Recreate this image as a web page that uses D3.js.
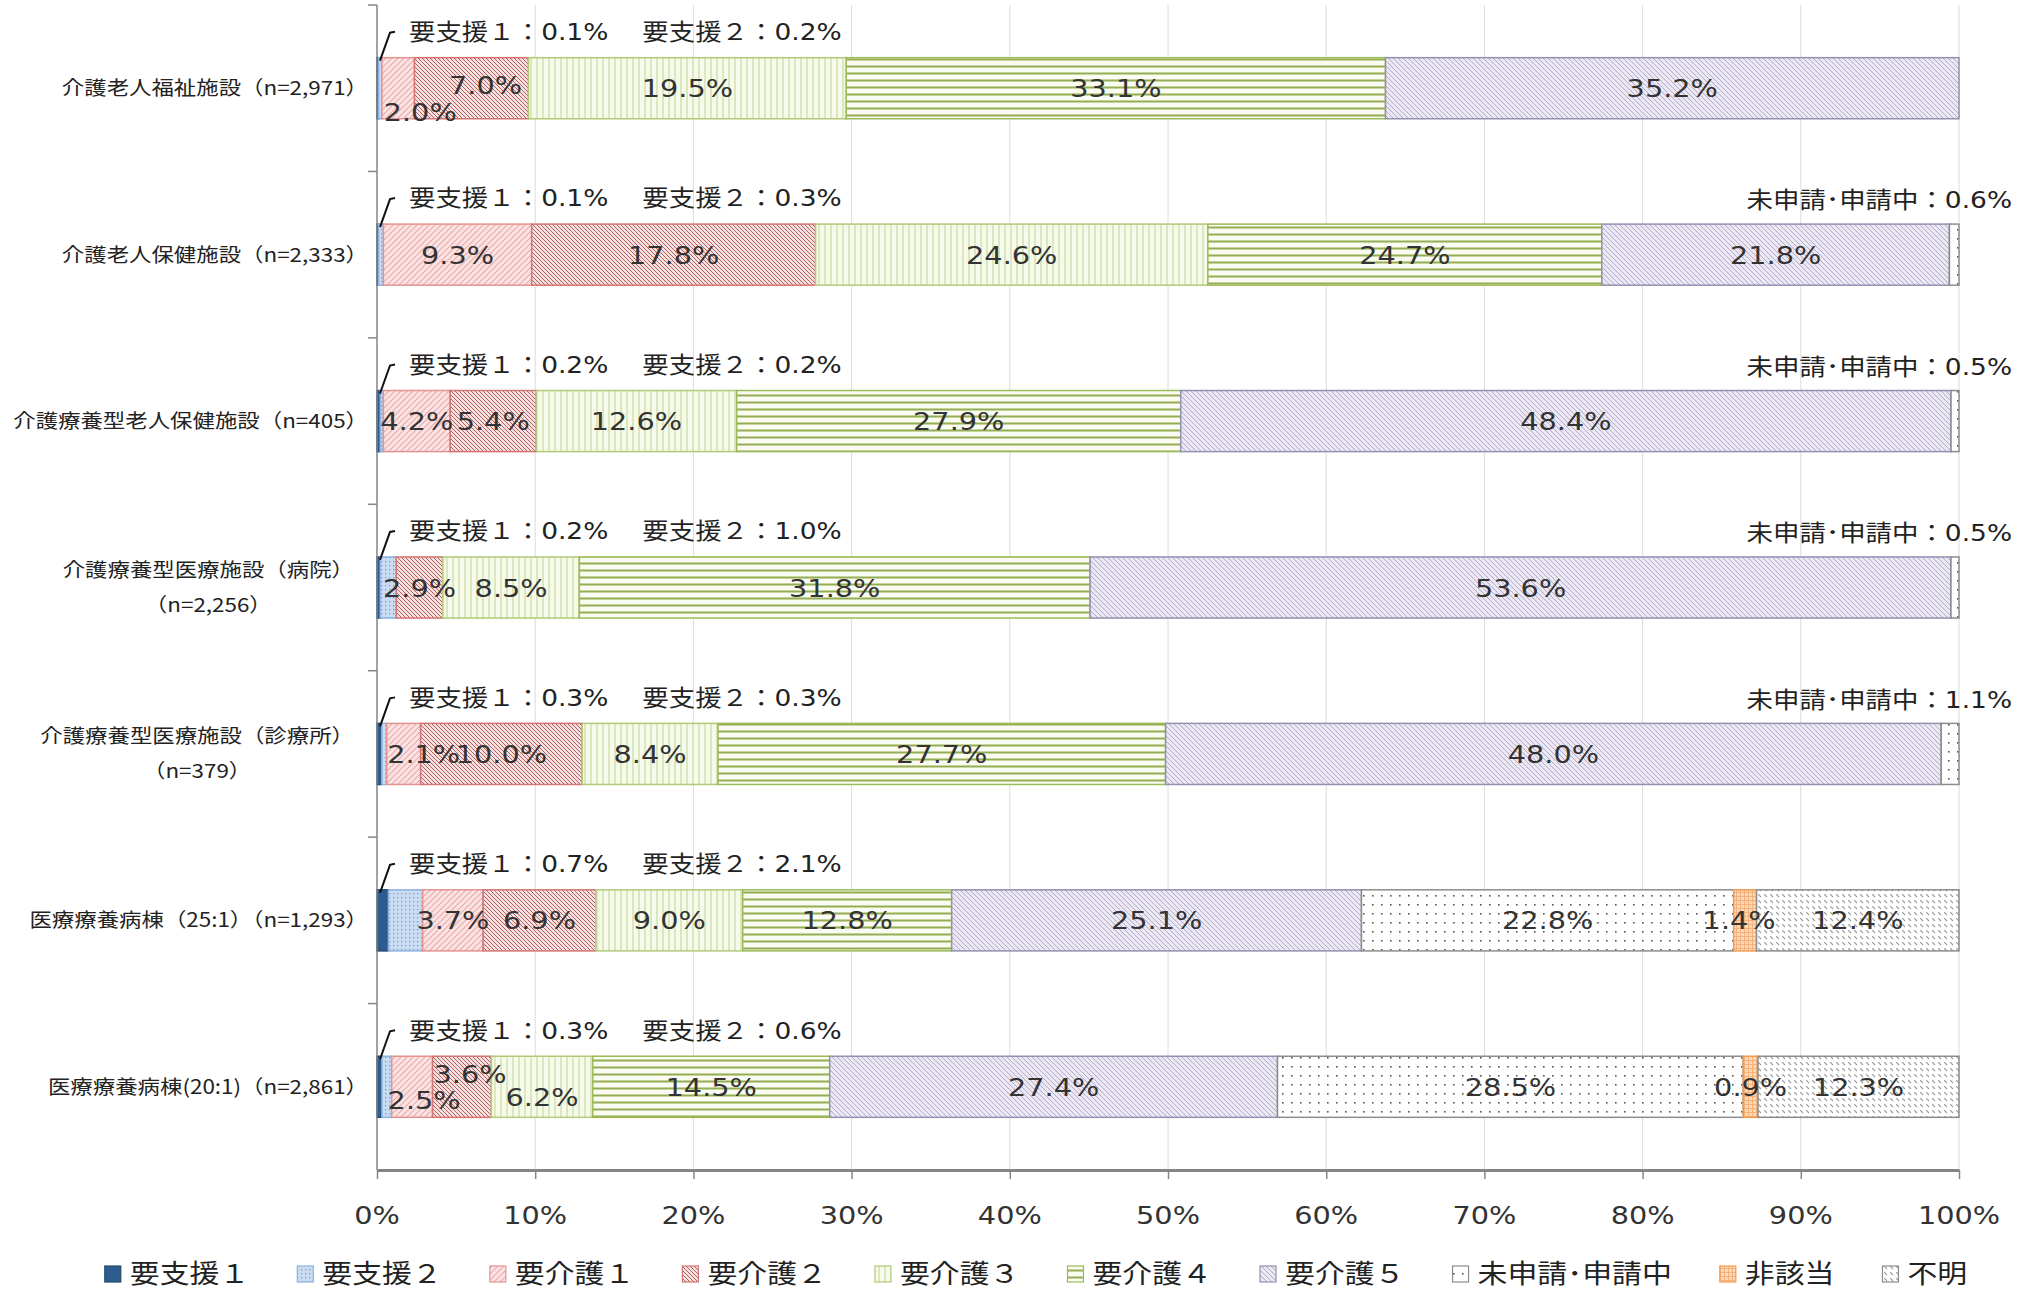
<!DOCTYPE html>
<html><head><meta charset="utf-8">
<script src="https://cdn.jsdelivr.net/npm/d3@7"></script>
<style>html,body{margin:0;padding:0;background:#fff;} svg{display:block;}</style>
</head><body>
<svg id="chart" width="2038" height="1291"></svg>
<script>
// ---------- DATA ----------
const categories = [
  "介護老人福祉施設（n=2,971）",
  "介護老人保健施設（n=2,333）",
  "介護療養型老人保健施設（n=405）",
  "介護療養型医療施設（病院）\n（n=2,256）",
  "介護療養型医療施設（診療所）\n（n=379）",
  "医療療養病棟（25:1）（n=1,293）",
  "医療療養病棟(20:1)（n=2,861）"
];
const seriesNames = ["要支援１","要支援２","要介護１","要介護２","要介護３","要介護４","要介護５","未申請･申請中","非該当","不明"];
const yoshien1   = [0.1, 0.1, 0.2, 0.2, 0.3, 0.7, 0.3];
const yoshien2   = [0.2, 0.3, 0.2, 1.0, 0.3, 2.1, 0.6];
const yokaigo1   = [2.0, 9.3, 4.2, 0.0, 2.1, 3.7, 2.5];
const yokaigo2   = [7.0, 17.8, 5.4, 2.9, 10.0, 6.9, 3.6];
const yokaigo3   = [19.5, 24.6, 12.6, 8.5, 8.4, 9.0, 6.2];
const yokaigo4   = [33.1, 24.7, 27.9, 31.8, 27.7, 12.8, 14.5];
const yokaigo5   = [35.2, 21.8, 48.4, 53.6, 48.0, 25.1, 27.4];
const mishinsei  = [0.0, 0.6, 0.5, 0.5, 1.1, 22.8, 28.5];
const higaito    = [0.0, 0.0, 0.0, 0.0, 0.0, 1.4, 0.9];
const fumei      = [0.0, 0.0, 0.0, 0.0, 0.0, 12.4, 12.3];
const seriesValues = [yoshien1, yoshien2, yokaigo1, yokaigo2, yokaigo3, yokaigo4, yokaigo5, mishinsei, higaito, fumei];
const tickValues = [0,0.1,0.2,0.3,0.4,0.5,0.6,0.7,0.8,0.9,1.0];
const tickLabels = ["0%","10%","20%","30%","40%","50%","60%","70%","80%","90%","100%"];

// ---------- STYLE / LAYOUT ----------
const SX = 1.15;
const FONT = "'DejaVu Sans','Noto Sans CJK JP',sans-serif";
const CJK = "'Noto Sans CJK JP','DejaVu Sans',sans-serif";
const W = 2038, H = 1291;
const plot = {left: 377, right: 1959, top: 5, bottom: 1170};
// small label offsets (px) for crowded segments: "row-series": [dx, dy]
const labelNudge = {"0-2":[22,24], "0-3":[14,-3], "4-2":[20,0], "6-2":[12,13], "6-3":[8,-13], "6-4":[0,10], "5-8":[-6,0]};

const styles = [
  {id:"p0", bg:"#2E5C8E", line:null, kind:"solid", stroke:"#24496F"},
  {id:"p1", bg:"#C9DCF2", line:"#7A9ED0", kind:"dots", stroke:"#8DB3E2"},
  {id:"p2", bg:"#FBE3E3", line:"#EBAAAA", kind:"fwd", stroke:"#E39391"},
  {id:"p3", bg:"#F8E0E0", line:"#B2605D", kind:"back-dense", stroke:"#D27573"},
  {id:"p4", bg:"#F6FAEA", line:"#CEDDA5", kind:"vert", stroke:"#B3C97A"},
  {id:"p5", bg:"#FBFCF1", line:"#93AD52", kind:"horiz", stroke:"#9BBB59"},
  {id:"p6", bg:"#ECE8F3", line:"#B2ABC9", kind:"back", stroke:"#958FB0"},
  {id:"p7", bg:"#FFFFFF", line:"#555555", kind:"sparse", stroke:"#8C8C8C"},
  {id:"p8", bg:"#FCD8B6", line:"#F4AE75", kind:"grid", stroke:"#F39A4E"},
  {id:"p9", bg:"#FFFFFF", line:"#9A9A9A", kind:"dash", stroke:"#8C8C8C"}
];

const svg = d3.select("#chart");
svg.append("rect").attr("width",W).attr("height",H).attr("fill","#fff");
const defs = svg.append("defs");

function makePattern(s){
  let w = 6, h = 6;
  if (s.kind==="dots") {w=4;h=4;}
  if (s.kind==="back-dense") {w=4;h=4;}
  if (s.kind==="back") {w=5;h=5;}
  if (s.kind==="vert") {w=6;h=6;}
  if (s.kind==="horiz") {w=7;h=7;}
  if (s.kind==="sparse") {w=9;h=9;}
  if (s.kind==="grid") {w=4;h=4;}
  if (s.kind==="dash") {w=6;h=6;}
  const p = defs.append("pattern").attr("id",s.id).attr("patternUnits","userSpaceOnUse").attr("width",w).attr("height",h);
  p.append("rect").attr("width",w).attr("height",h).attr("fill",s.bg);
  if (s.kind==="dots") p.append("rect").attr("x",1).attr("y",1).attr("width",1.3).attr("height",1.3).attr("fill",s.line);
  if (s.kind==="fwd") p.append("path").attr("d",`M0,${w} l${w},${-w} M${-w/4},${w/4} l${w/2},${-w/2} M${3*w/4},${5*w/4} l${w/2},${-w/2}`).attr("stroke",s.line).attr("stroke-width",1.1);
  if (s.kind==="back-dense"||s.kind==="back") p.append("path").attr("d",`M0,0 l${w},${w} M${-w/4},${3*w/4} l${w/2},${w/2} M${3*w/4},${-w/4} l${w/2},${w/2}`).attr("stroke",s.line).attr("stroke-width",1.0);
  if (s.kind==="vert") p.append("line").attr("x1",3).attr("x2",3).attr("y1",0).attr("y2",h).attr("stroke",s.line).attr("stroke-width",1.3);
  if (s.kind==="horiz") p.append("line").attr("x1",0).attr("x2",w).attr("y1",3.5).attr("y2",3.5).attr("stroke",s.line).attr("stroke-width",2);
  if (s.kind==="sparse") p.append("rect").attr("x",4).attr("y",4).attr("width",1.6).attr("height",1.6).attr("fill",s.line);
  if (s.kind==="grid") p.append("path").attr("d",`M0,0.5 H${w} M0.5,0 V${h}`).attr("stroke",s.line).attr("stroke-width",0.9);
  if (s.kind==="dash") p.append("path").attr("d",`M0,0 l3,3`).attr("stroke",s.line).attr("stroke-width",1.1);
}
styles.forEach(makePattern);
const fillOf = i => styles[i].kind==="solid" ? styles[i].bg : `url(#${styles[i].id})`;

// text helper with horizontal stretch
function txt(g, x, y, str, size, anchor, family, color){
  return g.append("text")
    .attr("transform",`translate(${x},${y}) scale(${SX},1)`)
    .attr("text-anchor",anchor||"start")
    .attr("dy","0.36em")
    .attr("font-family",family||FONT)
    .attr("font-size",size)
    .attr("fill",color||"#333")
    .text(str);
}

// ---------- SCALES ----------
const x = d3.scaleLinear().domain([0,1]).range([plot.left, plot.right]);
const y = d3.scaleBand().domain(categories).range([plot.top, plot.bottom]).paddingInner(0.633).paddingOuter(0.3165);

const rows = categories.map((c,i)=>{const r={cat:c}; seriesNames.forEach((s,j)=>r[s]=seriesValues[j][i]); return r;});
const stacked = d3.stack().keys(seriesNames).offset(d3.stackOffsetExpand)(rows);

// gridlines
svg.append("g").selectAll("line").data(tickValues.slice(1)).join("line")
  .attr("x1",d=>x(d)).attr("x2",d=>x(d)).attr("y1",plot.top).attr("y2",plot.bottom)
  .attr("stroke","#DCDCDC").attr("stroke-width",1);

// bars
const barsG = svg.append("g");
stacked.forEach((layer, j)=>{
  barsG.append("g").selectAll("rect").data(layer.filter(d=>d[1]-d[0]>0)).join("rect")
    .attr("x",d=>x(d[0])).attr("y",d=>y(d.data.cat))
    .attr("width",d=>x(d[1])-x(d[0])).attr("height",y.bandwidth())
    .attr("fill",fillOf(j)).attr("stroke",styles[j].stroke).attr("stroke-width",1.5);
});

// axes
const axG = svg.append("g").attr("transform",`translate(0,${plot.bottom})`)
  .call(d3.axisBottom(x).tickValues(tickValues).tickFormat("").tickSize(9).tickSizeOuter(0));
axG.select(".domain").attr("stroke","#858585").attr("stroke-width",3);
axG.selectAll(".tick line").attr("stroke","#858585").attr("stroke-width",1.5);
tickValues.forEach((v,i)=>txt(svg, x(v), 1215, tickLabels[i], 25, "middle"));

svg.append("line").attr("x1",plot.left).attr("x2",plot.left).attr("y1",plot.top).attr("y2",plot.bottom)
  .attr("stroke","#858585").attr("stroke-width",1.5);
const step = y.step();
d3.range(0, categories.length).forEach(i=>{
  const yy = plot.top + i*step;
  svg.append("line").attr("x1",plot.left-9).attr("x2",plot.left).attr("y1",yy).attr("y2",yy)
    .attr("stroke","#858585").attr("stroke-width",1.5);
});

// category labels
const catG = svg.append("g");
const catSize = 19.5;
categories.forEach(c=>{
  const lines = c.split("\n");
  const cy = y(c) + y.bandwidth()/2;
  const right = 368;
  if (lines.length===1) {
    txt(catG, right, cy, lines[0], catSize, "end", CJK, "#222");
  } else {
    const tmp = lines.map(l=>txt(catG, 0, -100, l, catSize, "start", CJK, "#222"));
    const ws = tmp.map(t=>t.node().getComputedTextLength()*SX);
    tmp.forEach(t=>t.remove());
    const maxW = d3.max(ws);
    const mid = right - 14 - maxW/2;
    const lh = 35;
    lines.forEach((l,k)=>txt(catG, mid, cy + (k-(lines.length-1)/2)*lh, l, catSize, "middle", CJK, "#222"));
  }
});

// data labels
const labG = svg.append("g");
stacked.forEach((layer,j)=>{
  layer.forEach((d,i)=>{
    const v = seriesValues[j][i];
    if (!(v>0)) return;
    if (j<2) return;
    if (j===7 && v<2) return;
    const nd = labelNudge[`${i}-${j}`] || [0,0];
    const cx = (x(d[0])+x(d[1]))/2 + nd[0];
    const cy = y(d.data.cat) + y.bandwidth()/2 + nd[1];
    txt(labG, cx, cy, v.toFixed(1)+"%", 25, "middle");
  });
});

// annotations above bars
const annG = svg.append("g");
categories.forEach((c,i)=>{
  const top = y(c);
  const x0 = x(0);
  annG.append("path").attr("d",`M${x0+3},${top+3} L${x0+13},${top-25} L${x0+18},${top-26}`)
    .attr("fill","none").attr("stroke","#111").attr("stroke-width",2);
  const t1 = txt(annG, x0+32, top-26, `${seriesNames[0]}：${seriesValues[0][i].toFixed(1)}%`, 23, "start", FONT, "#222");
  const w1 = t1.node().getComputedTextLength()*SX;
  txt(annG, x0+32+w1+34, top-26, `${seriesNames[1]}：${seriesValues[1][i].toFixed(1)}%`, 23, "start", FONT, "#222");
  const vm = seriesValues[7][i];
  if (vm>0 && vm<2) txt(annG, 2012, top-24, `${seriesNames[7]}：${vm.toFixed(1)}%`, 23, "end", FONT, "#222");
});

// legend
const legG = svg.append("g");
const items = seriesNames.map((s,j)=>{
  const t = txt(legG, 0, -100, s, 26, "start", FONT, "#222");
  const w = t.node().getComputedTextLength()*SX; t.remove();
  return {s, j, w};
});
const mk = 16, mgap = 9, igap = 48;
const total = d3.sum(items, d=>mk+mgap+d.w) + igap*(items.length-1);
let lx = 1036 - total/2;
const ly = 1274;
items.forEach(it=>{
  legG.append("rect").attr("x",lx).attr("y",ly-mk/2).attr("width",mk).attr("height",mk)
    .attr("fill",fillOf(it.j)).attr("stroke",styles[it.j].stroke).attr("stroke-width",1.2);
  txt(legG, lx+mk+mgap, ly, it.s, 26, "start", FONT, "#222");
  lx += mk+mgap+it.w+igap;
});
</script>
</body></html>
